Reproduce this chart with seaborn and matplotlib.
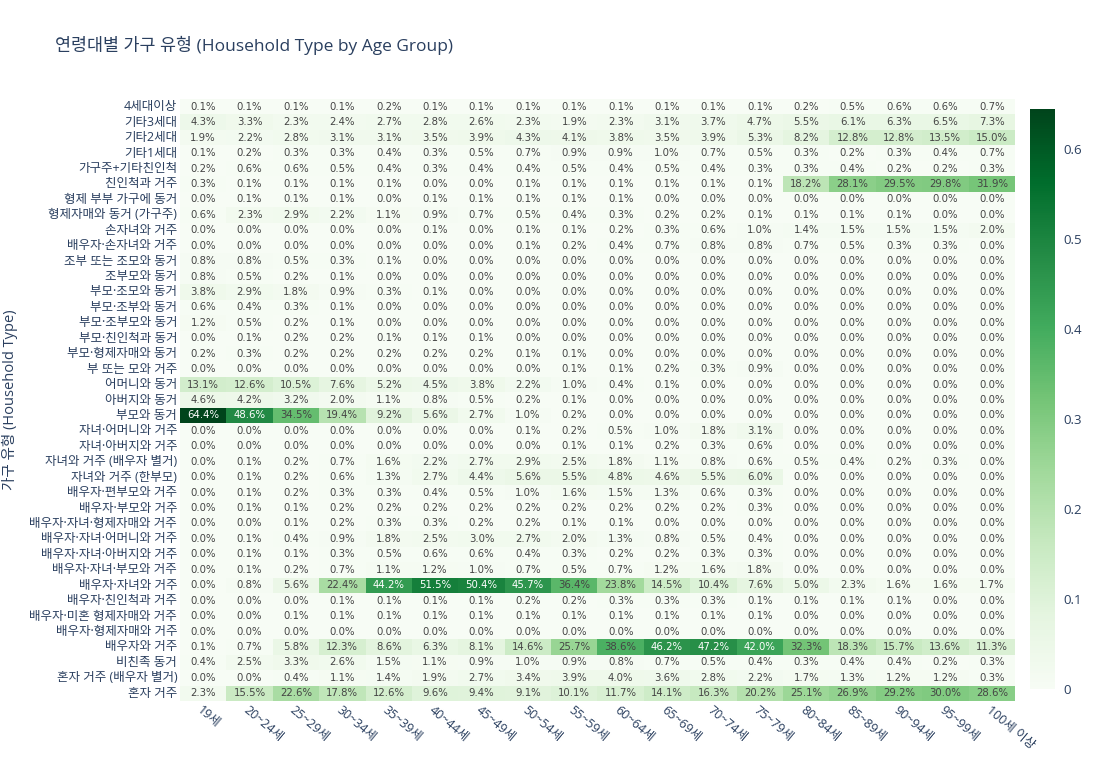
import numpy as np
import pandas as pd
import matplotlib
matplotlib.use('Agg')
import matplotlib.pyplot as plt
import seaborn as sns

### Age groups (columns) and household types (rows, top to bottom)
ages = ['19세', '20~24세', '25~29세', '30~34세', '35~39세', '40~44세', '45~49세',
        '50~54세', '55~59세', '60~64세', '65~69세', '70~74세', '75~79세',
        '80~84세', '85~89세', '90~94세', '95~99세', '100세 이상']

household_types = [
    '4세대이상', '기타3세대', '기타2세대', '기타1세대', '가구주+기타친인척',
    '친인척과 거주', '형제 부부 가구에 동거', '형제자매와 동거 (가구주)',
    '손자녀와 거주', '배우자·손자녀와 거주', '조부 또는 조모와 동거', '조부모와 동거',
    '부모·조모와 동거', '부모·조부와 동거', '부모·조부모와 동거', '부모·친인척과 동거',
    '부모·형제자매와 동거', '부 또는 모와 거주', '어머니와 동거', '아버지와 동거',
    '부모와 동거', '자녀·어머니와 거주', '자녀·아버지와 거주', '자녀와 거주 (배우자 별거)',
    '자녀와 거주 (한부모)', '배우자·편부모와 거주', '배우자·부모와 거주',
    '배우자·자녀·형제자매와 거주', '배우자·자녀·어머니와 거주', '배우자·자녀·아버지와 거주',
    '배우자·자녀·부모와 거주', '배우자·자녀와 거주', '배우자·친인척과 거주',
    '배우자·미혼 형제자매와 거주', '배우자·형제자매와 거주', '배우자와 거주',
    '비친족 동거', '혼자 거주 (배우자 별거)', '혼자 거주']

### Share of each household type per age group, in percent
pct = [
    [0.1, 0.1, 0.1, 0.1, 0.2, 0.1, 0.1, 0.1, 0.1, 0.1, 0.1, 0.1, 0.1, 0.2, 0.5, 0.6, 0.6, 0.7],
    [4.3, 3.3, 2.3, 2.4, 2.7, 2.8, 2.6, 2.3, 1.9, 2.3, 3.1, 3.7, 4.7, 5.5, 6.1, 6.3, 6.5, 7.3],
    [1.9, 2.2, 2.8, 3.1, 3.1, 3.5, 3.9, 4.3, 4.1, 3.8, 3.5, 3.9, 5.3, 8.2, 12.8, 12.8, 13.5, 15.0],
    [0.1, 0.2, 0.3, 0.3, 0.4, 0.3, 0.5, 0.7, 0.9, 0.9, 1.0, 0.7, 0.5, 0.3, 0.2, 0.3, 0.4, 0.7],
    [0.2, 0.6, 0.6, 0.5, 0.4, 0.3, 0.4, 0.4, 0.5, 0.4, 0.5, 0.4, 0.3, 0.3, 0.4, 0.2, 0.2, 0.3],
    [0.3, 0.1, 0.1, 0.1, 0.1, 0.0, 0.0, 0.1, 0.1, 0.1, 0.1, 0.1, 0.1, 18.2, 28.1, 29.5, 29.8, 31.9],
    [0.0, 0.1, 0.1, 0.1, 0.0, 0.1, 0.1, 0.1, 0.1, 0.1, 0.0, 0.0, 0.0, 0.0, 0.0, 0.0, 0.0, 0.0],
    [0.6, 2.3, 2.9, 2.2, 1.1, 0.9, 0.7, 0.5, 0.4, 0.3, 0.2, 0.2, 0.1, 0.1, 0.1, 0.1, 0.0, 0.0],
    [0.0, 0.0, 0.0, 0.0, 0.0, 0.1, 0.0, 0.1, 0.1, 0.2, 0.3, 0.6, 1.0, 1.4, 1.5, 1.5, 1.5, 2.0],
    [0.0, 0.0, 0.0, 0.0, 0.0, 0.0, 0.0, 0.1, 0.2, 0.4, 0.7, 0.8, 0.8, 0.7, 0.5, 0.3, 0.3, 0.0],
    [0.8, 0.8, 0.5, 0.3, 0.1, 0.0, 0.0, 0.0, 0.0, 0.0, 0.0, 0.0, 0.0, 0.0, 0.0, 0.0, 0.0, 0.0],
    [0.8, 0.5, 0.2, 0.1, 0.0, 0.0, 0.0, 0.0, 0.0, 0.0, 0.0, 0.0, 0.0, 0.0, 0.0, 0.0, 0.0, 0.0],
    [3.8, 2.9, 1.8, 0.9, 0.3, 0.1, 0.0, 0.0, 0.0, 0.0, 0.0, 0.0, 0.0, 0.0, 0.0, 0.0, 0.0, 0.0],
    [0.6, 0.4, 0.3, 0.1, 0.0, 0.0, 0.0, 0.0, 0.0, 0.0, 0.0, 0.0, 0.0, 0.0, 0.0, 0.0, 0.0, 0.0],
    [1.2, 0.5, 0.2, 0.1, 0.0, 0.0, 0.0, 0.0, 0.0, 0.0, 0.0, 0.0, 0.0, 0.0, 0.0, 0.0, 0.0, 0.0],
    [0.0, 0.1, 0.2, 0.2, 0.1, 0.1, 0.1, 0.0, 0.0, 0.0, 0.0, 0.0, 0.0, 0.0, 0.0, 0.0, 0.0, 0.0],
    [0.2, 0.3, 0.2, 0.2, 0.2, 0.2, 0.2, 0.1, 0.1, 0.0, 0.0, 0.0, 0.0, 0.0, 0.0, 0.0, 0.0, 0.0],
    [0.0, 0.0, 0.0, 0.0, 0.0, 0.0, 0.0, 0.0, 0.1, 0.1, 0.2, 0.3, 0.9, 0.0, 0.0, 0.0, 0.0, 0.0],
    [13.1, 12.6, 10.5, 7.6, 5.2, 4.5, 3.8, 2.2, 1.0, 0.4, 0.1, 0.0, 0.0, 0.0, 0.0, 0.0, 0.0, 0.0],
    [4.6, 4.2, 3.2, 2.0, 1.1, 0.8, 0.5, 0.2, 0.1, 0.0, 0.0, 0.0, 0.0, 0.0, 0.0, 0.0, 0.0, 0.0],
    [64.4, 48.6, 34.5, 19.4, 9.2, 5.6, 2.7, 1.0, 0.2, 0.0, 0.0, 0.0, 0.0, 0.0, 0.0, 0.0, 0.0, 0.0],
    [0.0, 0.0, 0.0, 0.0, 0.0, 0.0, 0.0, 0.1, 0.2, 0.5, 1.0, 1.8, 3.1, 0.0, 0.0, 0.0, 0.0, 0.0],
    [0.0, 0.0, 0.0, 0.0, 0.0, 0.0, 0.0, 0.0, 0.1, 0.1, 0.2, 0.3, 0.6, 0.0, 0.0, 0.0, 0.0, 0.0],
    [0.0, 0.1, 0.2, 0.7, 1.6, 2.2, 2.7, 2.9, 2.5, 1.8, 1.1, 0.8, 0.6, 0.5, 0.4, 0.2, 0.3, 0.0],
    [0.0, 0.1, 0.2, 0.6, 1.3, 2.7, 4.4, 5.6, 5.5, 4.8, 4.6, 5.5, 6.0, 0.0, 0.0, 0.0, 0.0, 0.0],
    [0.0, 0.1, 0.2, 0.3, 0.3, 0.4, 0.5, 1.0, 1.6, 1.5, 1.3, 0.6, 0.3, 0.0, 0.0, 0.0, 0.0, 0.0],
    [0.0, 0.1, 0.1, 0.2, 0.2, 0.2, 0.2, 0.2, 0.2, 0.2, 0.2, 0.2, 0.3, 0.0, 0.0, 0.0, 0.0, 0.0],
    [0.0, 0.0, 0.1, 0.2, 0.3, 0.3, 0.2, 0.2, 0.1, 0.1, 0.0, 0.0, 0.0, 0.0, 0.0, 0.0, 0.0, 0.0],
    [0.0, 0.1, 0.4, 0.9, 1.8, 2.5, 3.0, 2.7, 2.0, 1.3, 0.8, 0.5, 0.4, 0.0, 0.0, 0.0, 0.0, 0.0],
    [0.0, 0.1, 0.1, 0.3, 0.5, 0.6, 0.6, 0.4, 0.3, 0.2, 0.2, 0.3, 0.3, 0.0, 0.0, 0.0, 0.0, 0.0],
    [0.0, 0.1, 0.2, 0.7, 1.1, 1.2, 1.0, 0.7, 0.5, 0.7, 1.2, 1.6, 1.8, 0.0, 0.0, 0.0, 0.0, 0.0],
    [0.0, 0.8, 5.6, 22.4, 44.2, 51.5, 50.4, 45.7, 36.4, 23.8, 14.5, 10.4, 7.6, 5.0, 2.3, 1.6, 1.6, 1.7],
    [0.0, 0.0, 0.0, 0.1, 0.1, 0.1, 0.1, 0.2, 0.2, 0.3, 0.3, 0.3, 0.1, 0.1, 0.1, 0.1, 0.0, 0.0],
    [0.0, 0.0, 0.1, 0.1, 0.1, 0.1, 0.1, 0.1, 0.1, 0.1, 0.1, 0.1, 0.1, 0.0, 0.0, 0.0, 0.0, 0.0],
    [0.0, 0.0, 0.0, 0.0, 0.0, 0.0, 0.0, 0.0, 0.0, 0.0, 0.0, 0.0, 0.0, 0.0, 0.0, 0.0, 0.0, 0.0],
    [0.1, 0.7, 5.8, 12.3, 8.6, 6.3, 8.1, 14.6, 25.7, 38.6, 46.2, 47.2, 42.0, 32.3, 18.3, 15.7, 13.6, 11.3],
    [0.4, 2.5, 3.3, 2.6, 1.5, 1.1, 0.9, 1.0, 0.9, 0.8, 0.7, 0.5, 0.4, 0.3, 0.4, 0.4, 0.2, 0.3],
    [0.0, 0.0, 0.4, 1.1, 1.4, 1.9, 2.7, 3.4, 3.9, 4.0, 3.6, 2.8, 2.2, 1.7, 1.3, 1.2, 1.2, 0.3],
    [2.3, 15.5, 22.6, 17.8, 12.6, 9.6, 9.4, 9.1, 10.1, 11.7, 14.1, 16.3, 20.2, 25.1, 26.9, 29.2, 30.0, 28.6],
]

df = pd.DataFrame(np.array(pct) / 100.0, index=household_types, columns=ages)
labels = df.map(lambda v: f'{v*100:.1f}%')

sns.set_style('white')
plt.rcParams['font.family'] = ['Open Sans', 'Noto Sans CJK KR', 'DejaVu Sans']
ink = '#2a3f5f'

fig = plt.figure(figsize=(11, 7.8), dpi=100)
ax = fig.add_axes([0.1636, 0.1013, 0.7591, 0.7717])
cax = fig.add_axes([0.936, 0.1167, 0.0227, 0.7436])

sns.heatmap(df, ax=ax, cbar_ax=cax, cmap='Greens', vmin=0, vmax=df.values.max(),
            annot=labels, fmt='',
            annot_kws={'fontsize': 7.3, 'family': ['DejaVu Sans']},
            cbar_kws={'ticks': [0, 0.1, 0.2, 0.3, 0.4, 0.5, 0.6]})

### text colour: white on the dark cells, grey elsewhere
flat = df.values.flatten()
for txt, v in zip(ax.texts, flat):
    txt.set_color('white' if v > 0.4 else '#444444')

ax.tick_params(length=0, labelsize=9, colors=ink, pad=2)
ax.set_xticklabels(ages, rotation=-40, ha='left', rotation_mode='anchor')
ax.set_yticklabels(household_types, rotation=0)
ax.set_xlabel('연령대 (Age Group)', fontsize=10.5, color=ink, labelpad=20)
ax.set_ylabel('가구 유형 (Household Type)', fontsize=10.5, color=ink, labelpad=8)

cax.tick_params(length=0, labelsize=9.5, colors=ink, pad=6)
cax.set_yticklabels(['0', '0.1', '0.2', '0.3', '0.4', '0.5', '0.6'])
for s in cax.spines.values():
    s.set_visible(False)

fig.text(0.05, 0.942, '연령대별 가구 유형 (Household Type by Age Group)',
         fontsize=12.5, color=ink, va='center', ha='left')

plt.savefig('out.png', dpi=100)
plt.close()
